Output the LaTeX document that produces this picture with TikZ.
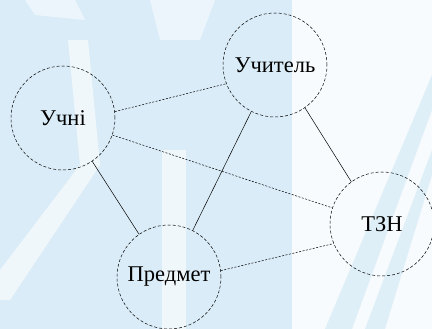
\documentclass[tikz,border=0pt]{standalone}
\usepackage{fontspec}
\setmainfont{Liberation Serif}
\usetikzlibrary{positioning}

\definecolor{bgblue}{RGB}{218,236,247}

\begin{document}
\begin{tikzpicture}[x=1pt,y=-1pt,
  vertex/.style={draw, circle, line width=0.5pt, dash pattern={on 3pt off 2pt},
    minimum size=104pt, inner sep=0pt, font=\fontsize{22.5}{26}\selectfont},
  dlink/.style={line width=0.5pt, dash pattern={on 2pt off 1.5pt}},
  slink/.style={line width=0.5pt}]
% Background
\useasboundingbox (0,0) rectangle (432,329);
\fill[bgblue] (0,0) rectangle (432,329);
\fill[white, opacity=0.6] (68,40) -- (88,40) -- (100,165) -- (10,300) -- (0,300) -- (0,270) -- (80,165) -- cycle;
\fill[white, opacity=0.5] (25,0) -- (75,0) -- (85,20) -- (35,15) -- cycle;
\fill[white, opacity=0.5] (150,0) -- (215,0) -- (200,40) -- (160,40) -- cycle;
\fill[white, opacity=0.6] (162,150) rectangle (186,329);
\fill[white, opacity=0.8] (292,0) rectangle (432,329);
\fill[bgblue, opacity=0.8] (432,75) -- (432,110) -- (352,329) -- (325,329) -- cycle;
\fill[bgblue, opacity=0.8] (432,150) -- (432,175) -- (385,329) -- (365,329) -- cycle;

% Circles
\node[vertex] (uchni) at (63,118) {Учні};
\node[vertex] (uchytel) at (275,65) {Учитель};
\node[vertex] (tzn) at (382,224) {ТЗН};
\node[vertex] (predmet) at (169,277) {Предмет};

% Connections
\draw[dlink] (uchni.7) -- (uchytel.201);
\draw[dlink] (uchni.341) -- (tzn.162);
\draw[slink] (uchni.304) -- (predmet.125);
\draw[slink] (uchytel.243) -- (predmet.63);
\draw[slink] (uchytel.305) -- (tzn.126);
\draw[dlink] (predmet.7) -- (tzn.202);
\end{tikzpicture}
\end{document}
